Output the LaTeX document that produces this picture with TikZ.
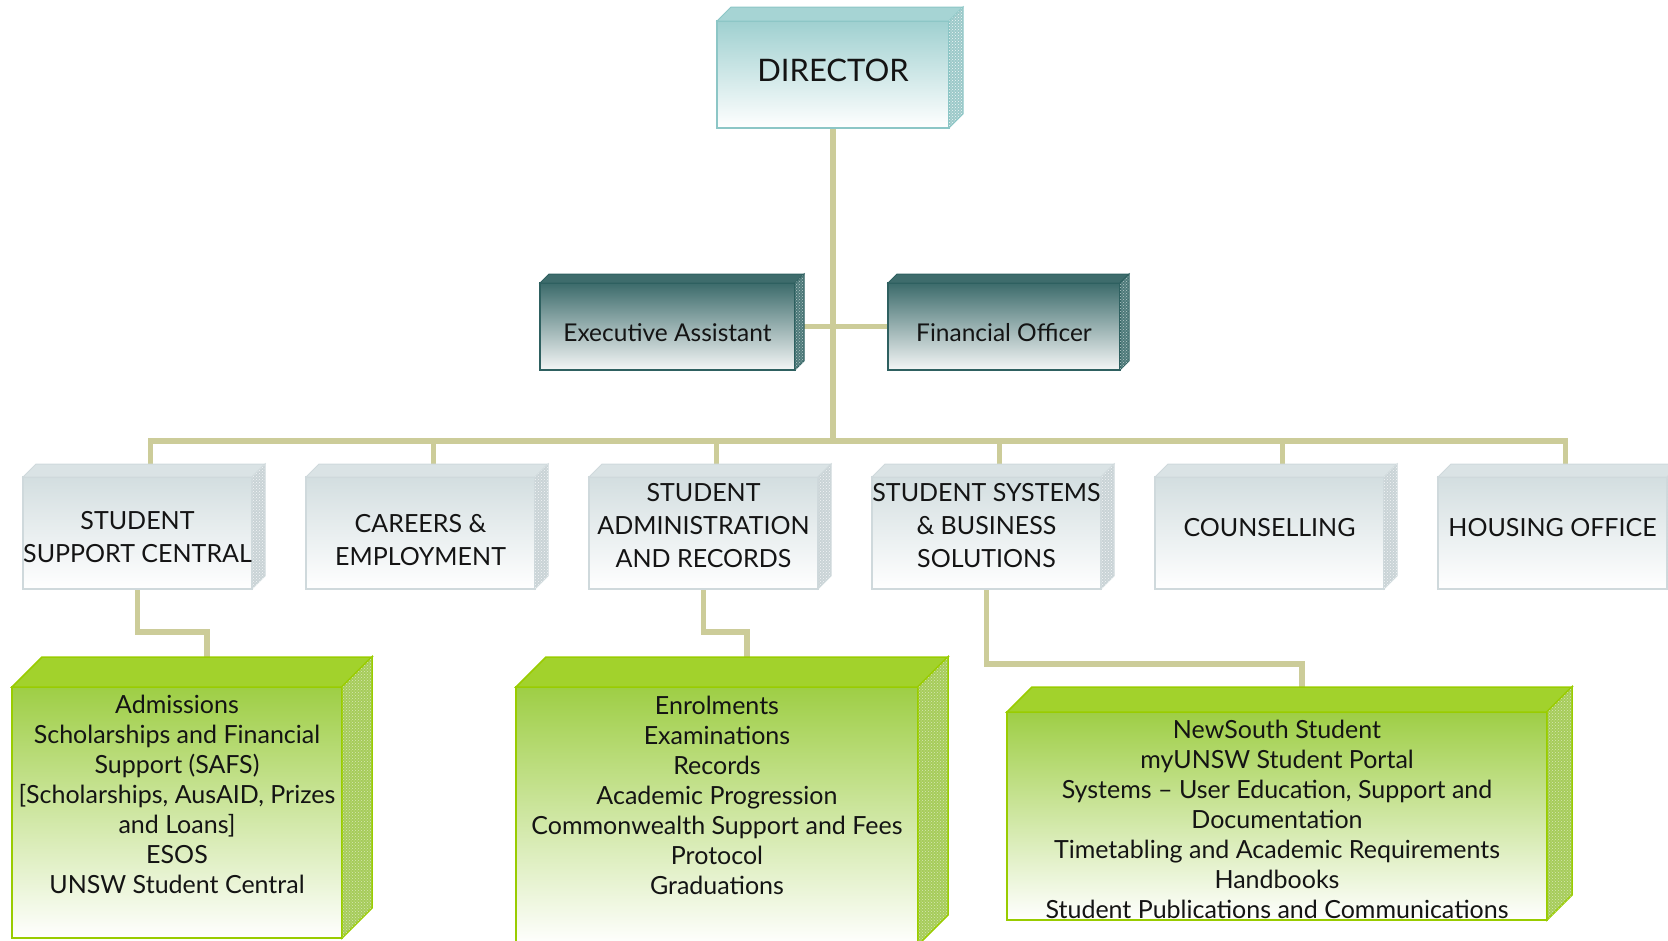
\documentclass[tikz,border=0pt]{standalone}
\usepackage{fontspec}
\setmainfont{Lato}
\usetikzlibrary{calc,patterns,backgrounds}

\definecolor{txt}{HTML}{141414}
\definecolor{connC}{HTML}{CCCC99}
% director
\definecolor{dirTop}{HTML}{9FD0D0}
\definecolor{dirLine}{HTML}{8CC6C6}
\definecolor{dirBevel}{HTML}{A6D4D4}
\definecolor{dirSide}{HTML}{9CC9C9}
% executive assistant / financial officer
\definecolor{eaTop}{HTML}{3C6B6B}
\definecolor{eaBot}{HTML}{F4F6F6}
\definecolor{eaLine}{HTML}{2E6060}
\definecolor{eaBevel}{HTML}{3E6C6C}
\definecolor{eaSide}{HTML}{4E7A7A}
% units
\definecolor{rowTop}{HTML}{D3DEE0}
\definecolor{rowLine}{HTML}{CFD9DC}
\definecolor{rowBevel}{HTML}{DAE3E5}
\definecolor{rowSide}{HTML}{C9D3D6}
% service lists
\definecolor{grnTop}{HTML}{9ECE45}
\definecolor{grnLine}{HTML}{99CC00}
\definecolor{grnBevel}{HTML}{A2D22C}
\definecolor{grnSide}{HTML}{A6CC5A}

\tikzset{
  x=1pt, y=-1pt,
  conn/.style={draw=connC, line width=5.5pt},
  face/.style={rectangle, line width=1.4pt, outer sep=0pt, inner sep=0pt},
  label text/.style={align=center, text=txt, inner sep=0pt},
  dirface/.style={face, draw=dirLine, top color=dirTop, bottom color=white},
  dirtext/.style={label text, font=\fontsize{31}{37}\selectfont},
  dirtop/.style={fill=dirBevel, draw=dirLine, line width=1pt},
  dirside/.style={fill=dirSide, draw=dirLine, line width=1pt,
    postaction={pattern=crosshatch dots, pattern color=white!85!dirSide}},
  eaface/.style={face, draw=eaLine, top color=eaTop, bottom color=eaBot},
  eatext/.style={label text, font=\fontsize{24.5}{30}\selectfont},
  eatop/.style={fill=eaBevel, draw=eaLine, line width=1pt},
  easide/.style={fill=eaSide, draw=eaLine, line width=1pt,
    postaction={pattern=crosshatch dots, pattern color=white!60!eaSide}},
  rowface/.style={face, draw=rowLine, top color=rowTop, bottom color=white},
  rowtext/.style={label text, font=\fontsize{25}{33}\selectfont},
  rowtop/.style={fill=rowBevel, draw=rowLine, line width=1pt},
  rowside/.style={fill=rowSide, draw=rowLine, line width=1pt,
    postaction={pattern=crosshatch dots, pattern color=white!80!rowSide}},
  grnface/.style={face, draw=grnLine, top color=grnTop, bottom color=white,
    line width=2pt},
  grntext/.style={label text, font=\fontsize{25}{30}\selectfont},
  grntop/.style={fill=grnBevel, draw=grnLine, line width=1.5pt},
  grnside/.style={fill=grnSide, draw=grnLine, line width=1.5pt,
    postaction={pattern=crosshatch dots, pattern color=white!55!grnSide}},
}

% #1 name, #2 left, #3 top, #4 right, #5 bottom, #6 depth, #7 kind,
% #8 text, #9 vertical offset of the text from the face centre
\newcommand{\slab}[9]{%
  \node[#7face, minimum width={(#4-#2)*1pt}, minimum height={(#5-#3)*1pt}]
    (#1) at ({(#2+#4)/2},{(#3+#5)/2}) {};
  \filldraw[#7top] (#1.north west) -- ++(#6,-#6)
    -- ($(#1.north east)+(#6,-#6)$) -- (#1.north east) -- cycle;
  \filldraw[#7side] (#1.north east) -- ($(#1.north east)+(#6,-#6)$)
    -- ($(#1.south east)+(#6,-#6)$) -- (#1.south east) -- cycle;
  \coordinate (#1-top) at ($(#1.north)+(#6,-#6)$);
  \node[#7text] (#1-t) at ($(#1.center)+(0,#9)$) {#8};
}

\begin{document}
\begin{tikzpicture}
\useasboundingbox (0,0) rectangle (1668,940);

% head
\slab{dir}{717}{21}{949}{128}{14}{dir}{DIRECTOR}{-4}
% staff
\slab{ea}{540}{283}{795}{370}{9}{ea}{Executive Assistant}{6}
\slab{fo}{888}{283}{1120}{370}{9}{ea}{Financial Officer}{6}

% units
\slab{r1}{23}{477}{252}{589}{13}{row}{STUDENT\\SUPPORT CENTRAL}{4}
\slab{r2}{306}{477}{535}{589}{13}{row}{CAREERS \&\\EMPLOYMENT}{7}
\slab{r3}{589}{477}{818}{589}{13}{row}{\fontsize{25}{32}\selectfont STUDENT\\ADMINISTRATION\\AND RECORDS}{-7}
\slab{r4}{872}{477}{1101}{589}{13}{row}{\fontsize{25}{32}\selectfont STUDENT SYSTEMS\\\& BUSINESS\\SOLUTIONS}{-7}
\slab{r5}{1155}{477}{1384}{589}{13}{row}{COUNSELLING}{-5}
\slab{r6}{1438}{477}{1667}{589}{13}{row}{HOUSING OFFICE}{-5}

% service lists
\slab{ga}{12}{687}{342}{938}{30}{grn}{Admissions\\Scholarships and Financial\\Support (SAFS)\\{[}Scholarships, AusAID, Prizes\\and Loans]\\ESOS\\UNSW Student Central}{-18}
\slab{gb}{516}{687}{918}{945}{30}{grn}{Enrolments\\Examinations\\Records\\Academic Progression\\Commonwealth Support and Fees\\Protocol\\Graduations}{-21}
\slab{gc}{1007}{712}{1547}{920}{25}{grn}{NewSouth Student\\myUNSW Student Portal\\Systems \textendash{} User Education, Support and\\Documentation\\Timetabling and Academic Requirements\\Handbooks\\Student Publications and Communications}{3}

% connectors
\coordinate (bus) at (834,441);
\coordinate (ja) at (0,632);
\coordinate (jc) at (0,664);
\begin{scope}[on background layer]
  \draw[conn] (dir.south) -- (dir.south |- bus);
  \draw[conn] (ea.east) -- (fo.west);
  \draw[conn] (r1-top) -- (r1-top |- bus) -- (r6-top |- bus) -- (r6-top);
  \draw[conn] (r2-top) -- (r2-top |- bus);
  \draw[conn] (r3-top) -- (r3-top |- bus);
  \draw[conn] (r4-top) -- (r4-top |- bus);
  \draw[conn] (r5-top) -- (r5-top |- bus);
  \draw[conn] (r1.south) -- (r1.south |- ja) -| (ga-top);
  \draw[conn] (r3.south) -- (r3.south |- ja) -| (gb-top);
  \draw[conn] (r4.south) -- (r4.south |- jc) -| (gc-top);
\end{scope}
\end{tikzpicture}
\end{document}
